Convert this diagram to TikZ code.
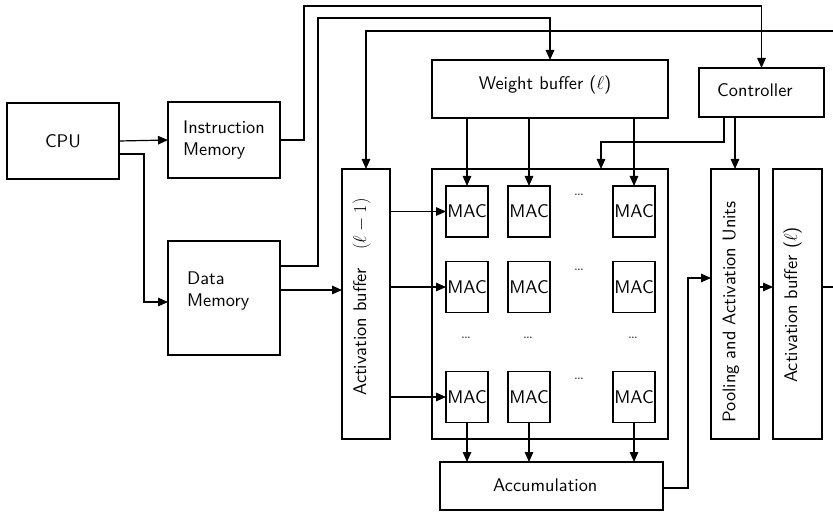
\RequirePackage{fix-cm}
\documentclass[tikz,border=0pt]{standalone}
\usepackage{fontspec}
\setsansfont{lmsans10-regular}[Extension=.otf]
\usetikzlibrary{arrows.meta,calc}
\begin{document}
\begin{tikzpicture}[x=1pt,y=-1pt,
  font=\fontsize{18.3}{22}\selectfont\sffamily,
  box/.style={draw, line width=1.2pt, inner sep=0pt, outer sep=0pt},
  txt/.style={inner sep=0pt, align=left},
  arr/.style={line width=1.2pt, -{Triangle[length=10pt,width=8.5pt]}},
  dotsn/.style={inner sep=0pt, font=\fontsize{17}{17}\selectfont\sffamily, text=black!70}]
\clip (0,0) rectangle (833,513);
% boxes
\node[box, minimum width=112pt, minimum height=76pt] (cpu) at (63,141) {CPU};
\node[box, minimum width=112pt, minimum height=76pt, align=left] (im) at (224,140) {Instruction\\Memory};
\node[box, minimum width=112pt, minimum height=114pt] (dm) at (224,298) {};
\node[txt, anchor=west] (dmtext) at (187,291) {Data\\Memory};
\node[box, minimum width=236pt, minimum height=58pt] (wb) at (550,89) {};
\node[txt] (wbtext) at (545,85) {Weight buffer ($\ell$)};
\node[box, minimum width=125pt, minimum height=49pt] (ctrl) at (761.5,92.5) {};
\node[txt, anchor=west] (ctrltext) at (717,90) {Controller};
\node[box, minimum width=48pt, minimum height=270pt] (ab1) at (366,304) {};
\node[txt, rotate=90] (ab1text) at (361.5,297) {Activation buffer\quad$(\ell-1)$};
\node[box, minimum width=236pt, minimum height=270pt] (grid) at (550,304) {};
\foreach \r/\y in {1/211.5,2/287,3/397}{
  \foreach \c/\x in {1/467,2/529,3/634}{
    \node[box, minimum width=42pt, minimum height=51pt] (m\r\c) at (\x,\y) {MAC};
  }
}
\node[dotsn] (d1) at (579,195) {\ldots};
\node[dotsn] (d2) at (579,270) {\ldots};
\node[dotsn] (d3) at (579,379) {\ldots};
\node[dotsn] (d4) at (466,338) {\ldots};
\node[dotsn] (d5) at (528,338) {\ldots};
\node[dotsn] (d6) at (633,338) {\ldots};
\node[box, minimum width=48pt, minimum height=270pt] (pool) at (735,304) {};
\node[txt, rotate=90] (pooltext) at (731,312) {Pooling and Activation Units};
\node[box, minimum width=49pt, minimum height=270pt] (ab2) at (797.5,304) {};
\node[txt, rotate=90] (ab2text) at (792.5,305) {Activation buffer ($\ell$)};
\node[box, minimum width=223pt, minimum height=48pt] (acc) at (551.5,486) {};
\node[txt, anchor=west] (acctext) at (493,485) {Accumulation};
% connectors
\draw[arr] (cpu.east) -- (im.west);
\draw[arr] ([yshift=-13pt]cpu.east) -- ++(25,0) |- ([yshift=-4pt]dm.west);
\draw[arr] (im.east) -- ++(24,0) |- (ctrl.north |- 0,6) -- (ctrl.north);
\draw[arr] ([yshift=32pt]dm.east) -- ++(38,0) |- (wb.north |- 0,18) -- (wb.north);
\coordinate (dmo) at ([yshift=8pt]dm.east);
\draw[arr] (dmo) -- (dmo -| ab1.west);
\draw[arr] (ab2.east |- 0,287) -- ++(30,0) |- (ab1.north |- 0,31) -- (ab1.north);
\foreach \r in {1,2,3}{
  \draw[arr] (ab1.east |- m\r1.west) -- (m\r1.west);
}
\foreach \c in {1,2,3}{
  \draw[arr] (wb.south -| m1\c.north) -- (m1\c.north);
  \draw[arr] (m3\c.south) -- (m3\c.south |- acc.north);
}
\draw[arr] ([xshift=-37.5pt]ctrl.south) -- ++(0,25) -| (grid.north -| 601,0);
\draw[arr] (ctrl.south -| pool.north) -- (pool.north);
\draw[arr] ([yshift=-2pt]acc.east) -- ++(25,0) |- (pool.west |- 0,278);
\draw[arr] (pool.east |- 0,287) -- (ab2.west |- 0,287);
\end{tikzpicture}
\end{document}
